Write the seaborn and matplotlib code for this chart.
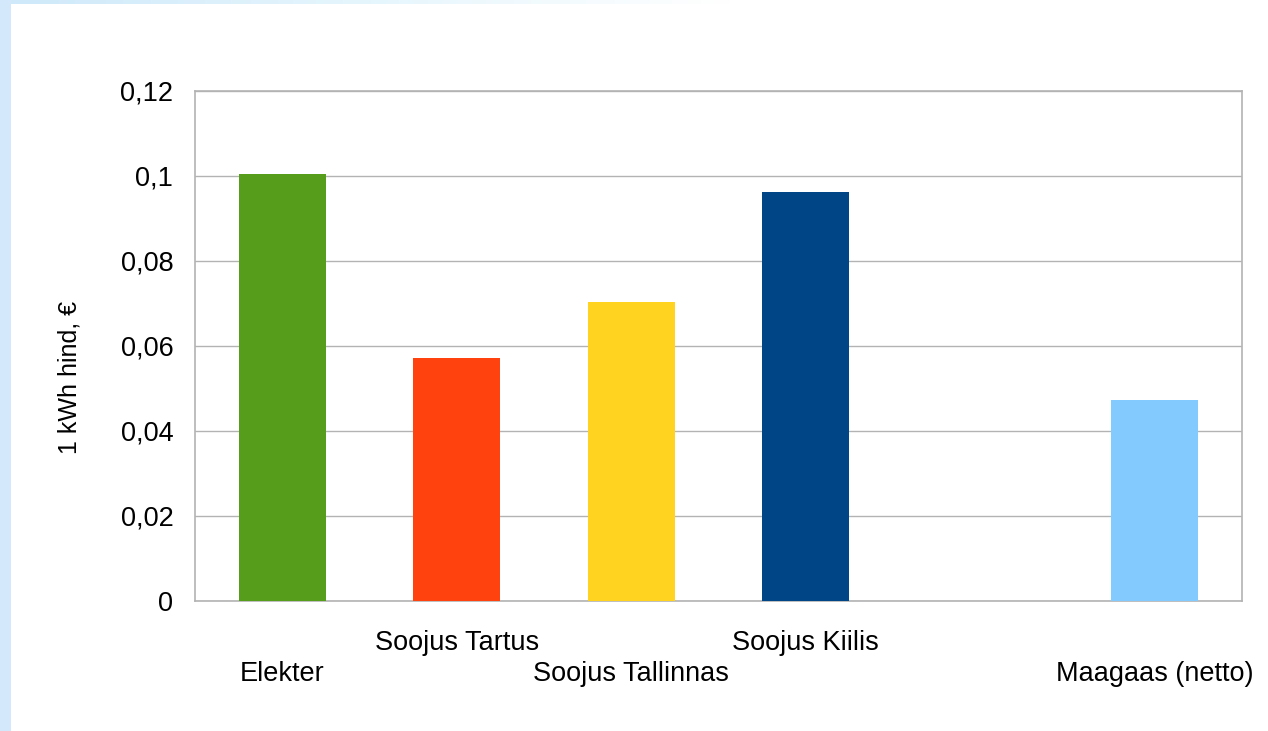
import numpy as np
import pandas as pd
import matplotlib
matplotlib.use("Agg")
import matplotlib.pyplot as plt
import seaborn as sns
from matplotlib.patches import Rectangle
from matplotlib.colors import LinearSegmentedColormap

categories = ["Elekter", "Soojus Tartus", "Soojus Tallinnas", "Soojus Kiilis", "", "Maagaas (netto)"]
values = [0.1004, 0.0571, 0.0703, 0.0962, np.nan, 0.0473]
colors = ["#579d1c", "#ff420e", "#ffd320", "#004586", "#ffffff", "#83caff"]
label_lower_row = [True, False, True, False, False, True]
yticks = [0, 0.02, 0.04, 0.06, 0.08, 0.1, 0.12]
ytick_labels = ["0", "0,02", "0,04", "0,06", "0,08", "0,1", "0,12"]
ylabel = "1 kWh hind, €"

sns.set_style("white")
plt.rcParams["font.family"] = ["Liberation Sans", "DejaVu Sans"]
plt.rcParams["text.color"] = "black"
plt.rcParams["xtick.color"] = "black"
plt.rcParams["ytick.color"] = "black"

W, H = 1268, 731
fig = plt.figure(figsize=(W / 100, H / 100), dpi=100)
fig.patch.set_facecolor("white")

# decorative light-blue frame strips
fig.add_artist(Rectangle((0, 0), 11 / W, 1, transform=fig.transFigure,
                         facecolor="#d4e8fb", edgecolor="none", zorder=0))
grad = np.linspace(0, 1, 256).reshape(1, -1)
gax = fig.add_axes([11 / W, 1 - 4 / H, 720 / W, 4 / H], zorder=0)
cmap = LinearSegmentedColormap.from_list("strip", ["#cfe9fa", "#e6f6fd", "#ffffff"])
gax.imshow(grad, aspect="auto", cmap=cmap, extent=[0, 1, 0, 1])
gax.axis("off")

ax = fig.add_axes([195 / W, 1 - 601 / H, (1242 - 195) / W, (601 - 90.7) / H])
df = pd.DataFrame({"cat": categories, "val": values})
df_plot = df.dropna()
sns.barplot(data=df_plot, x="cat", y="val", hue="cat", order=categories,
            hue_order=categories, palette=dict(zip(categories, colors)),
            width=0.5, legend=False, saturation=1, ax=ax, zorder=3,
            edgecolor="none", linewidth=0)

ax.set_xlim(-0.5, len(categories) - 0.5)
ax.set_ylim(0, 0.12)
ax.set_yticks(yticks)
ax.set_yticklabels(ytick_labels, fontsize=19.5)
ax.yaxis.grid(True, color="#b3b3b3", linewidth=1.0, zorder=0)
ax.set_axisbelow(True)
for s in ax.spines.values():
    s.set_visible(True)
    s.set_color("#b3b3b3")
    s.set_linewidth(1.2)

xl = [("\n" if low else "") + c for low, c in zip(label_lower_row, categories)]
ax.set_xticks(range(len(categories)))
ax.set_xticklabels(xl, fontsize=19.5, linespacing=1.25)
ax.set_xticks(np.arange(-0.5, len(categories), 1.0), minor=True)
ax.tick_params(axis="x", which="major", length=0, pad=21)
ax.tick_params(axis="x", which="minor", length=8.6, width=1.2, color="#b3b3b3", direction="out")
ax.tick_params(axis="y", which="major", length=8.6, width=1.2, color="#b3b3b3",
               labelcolor="black", direction="out", pad=7)
ax.tick_params(axis="x", labelcolor="black")
ax.set_xlabel("")
ax.set_ylabel("")
fig.text(70 / W, 1 - 377 / H, ylabel, rotation=90, ha="center", va="center",
         fontsize=18, color="black")

fig.savefig("out.png", dpi=100, facecolor=fig.get_facecolor())
